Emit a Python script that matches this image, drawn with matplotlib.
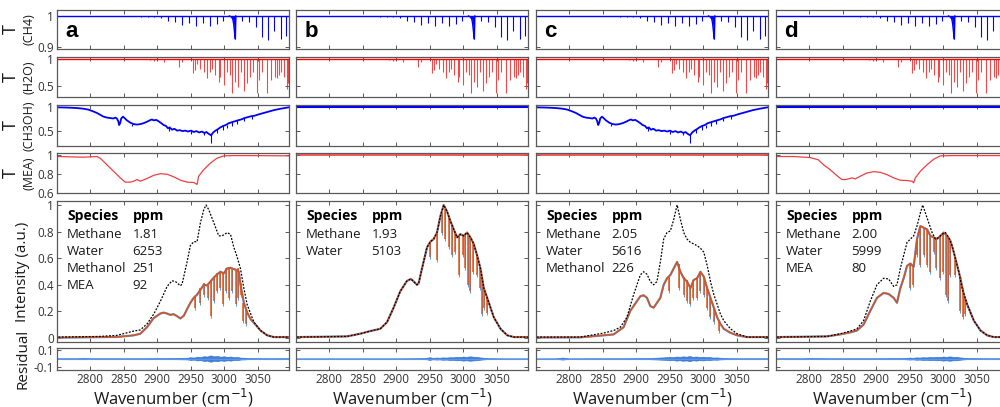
import matplotlib
matplotlib.use('Agg')
import matplotlib.pyplot as plt
from matplotlib.ticker import FuncFormatter

plt.rcParams['font.family'] = ['Open Sans', 'DejaVu Sans']

# ---------------- data ----------------
panel_letters = ['a', 'b', 'c', 'd']
species_tables = [
    [('Methane', '1.81'), ('Water', '6253'), ('Methanol', '251'), ('MEA', '92')],
    [('Methane', '1.93'), ('Water', '5103')],
    [('Methane', '2.05'), ('Water', '5616'), ('Methanol', '226')],
    [('Methane', '2.00'), ('Water', '5999'), ('MEA', '80')],
]

# CH4 transmission lines
ch4_pos = [2866, 2876, 2886, 2896, 2906, 2916, 2927, 2937, 2948, 2958, 2968, 2979, 2989, 2999,
           3027, 3037, 3047, 3057, 3066, 3075, 3085, 3093]
ch4_T = [0.999, 0.998, 0.997, 0.996, 0.993, 0.985, 0.982, 0.971, 0.976, 0.967, 0.976, 0.967,
         0.974, 0.985, 0.985, 0.982, 0.965, 0.933, 0.922, 0.95, 0.924, 0.935]
ch4_q_x = [3008, 3011, 3013, 3014.3, 3015.3, 3016.2, 3016.9, 3017.5]
ch4_q_T = [1.0, 0.997, 0.99, 0.975, 0.955, 0.935, 0.925, 1.0]

# H2O transmission lines
h2o_pos = [2889.9, 2894.8, 2909.8, 2932.3, 2937.3, 2953.7, 2956.2, 2959.7, 2964.7, 2969.7,
           2974.7, 2978.7, 2982.7, 2987.2, 2992.1, 2994.6, 3000.6, 3004.6, 3008.6, 3012.1,
           3016.1, 3020.6, 3024.6, 3029.6, 3034.6, 3038.6, 3043.5, 3048.5, 3052.0, 3057.0,
           3063.5, 3069.5, 3075.5, 3078.5, 3082.0, 3085.5, 3089.5, 3093.4, 3095.4]
h2o_T = [0.98, 0.97, 0.94, 0.85, 0.94, 0.74, 0.79, 0.91, 0.82, 0.76,
         0.64, 0.76, 0.82, 0.70, 0.58, 0.67, 0.52, 0.76, 0.70, 0.36,
         0.58, 0.48, 0.76, 0.40, 0.55, 0.67, 0.76, 0.36, 0.61, 0.76,
         0.37, 0.61, 0.67, 0.64, 0.70, 0.76, 0.67, 0.44, 0.55]

# CH3OH transmission (runs a and c)
meoh_x = [2751.1, 2765.1, 2780.1, 2790.1, 2797.5, 2805, 2810, 2815, 2820, 2825, 2830, 2835,
          2837.5, 2840, 2842, 2843.4, 2845, 2846.4, 2849, 2851.4, 2855, 2860, 2864.9, 2869.9,
          2874.9, 2879.9, 2884.9, 2888.9, 2892.3, 2894.8, 2898.8, 2902.3, 2906.3, 2909.8,
          2913.3, 2916.3, 2918.8, 2922.3, 2925.8, 2929.8, 2933.8, 2937.8, 2942.3, 2946.2,
          2950.7, 2954.7, 2958.7, 2962.7, 2966.7, 2970.7, 2973.7, 2977.2, 2980.7, 2983.7,
          2987.2, 2990.7, 2994.6, 2998.6, 3002.6, 3007.1, 3011.6, 3016.1, 3020.6, 3025.6,
          3030.6, 3035.6, 3040.6, 3045.6, 3052.0, 3059.5, 3067.0, 3074.5, 3084.5, 3096.5]
meoh_T = [1.0, 0.995, 0.985, 0.97, 0.95, 0.91, 0.88, 0.84, 0.80, 0.78, 0.77, 0.76,
          0.78, 0.76, 0.70, 0.62, 0.67, 0.76, 0.80, 0.77, 0.72, 0.67, 0.64, 0.63,
          0.64, 0.66, 0.69, 0.72, 0.74, 0.72, 0.73, 0.70, 0.66, 0.62,
          0.60, 0.55, 0.57, 0.52, 0.54, 0.50, 0.51, 0.49, 0.50, 0.48,
          0.50, 0.47, 0.49, 0.46, 0.48, 0.45, 0.47, 0.43, 0.40, 0.46,
          0.50, 0.53, 0.57, 0.60, 0.62, 0.66, 0.68, 0.70, 0.72, 0.74,
          0.77, 0.79, 0.81, 0.82, 0.85, 0.88, 0.91, 0.94, 0.97, 1.0]
meoh_spike_x = [2863, 2918, 2950, 2970, 2980.7, 2990, 2998, 3005, 3012, 3020, 3030, 3041]
meoh_spike_top = [0.65, 0.57, 0.50, 0.46, 0.42, 0.53, 0.60, 0.63, 0.68, 0.72, 0.77, 0.81]
meoh_spike_bot = [0.60, 0.50, 0.43, 0.40, 0.24, 0.44, 0.52, 0.56, 0.60, 0.64, 0.70, 0.75]

# MEA transmission (run a, run d)
mea_a_x = [2751, 2790, 2810, 2815, 2825, 2835, 2845, 2852.4, 2860, 2865, 2870, 2875, 2885,
           2895, 2905, 2915, 2925, 2935, 2945, 2955, 2957.2, 2959.7, 2962, 2969.7, 2979.7,
           2989.6, 2999.6, 3014.6, 3039.6, 3097]
mea_a_T = [0.983, 0.976, 0.983, 0.966, 0.897, 0.828, 0.759, 0.714, 0.714, 0.724, 0.741, 0.724,
           0.752, 0.786, 0.803, 0.797, 0.769, 0.734, 0.714, 0.71, 0.70, 0.69, 0.776, 0.845,
           0.914, 0.966, 0.99, 0.993, 0.993, 0.99]
mea_d_x = [2751.6, 2776.5, 2801.5, 2813.9, 2821.4, 2831.4, 2841.4, 2848.9, 2853.9, 2858.8,
           2863.8, 2868.8, 2876.3, 2886.3, 2896.3, 2906.2, 2916.2, 2926.2, 2936.2, 2946.2,
           2953.6, 2956.1, 2958.6, 2966.1, 2976.1, 2986.1, 2996.1, 3016, 3097]
mea_d_T = [0.983, 0.983, 0.972, 0.948, 0.897, 0.845, 0.783, 0.741, 0.741, 0.748,
           0.759, 0.748, 0.776, 0.81, 0.824, 0.817, 0.793, 0.759, 0.734, 0.731,
           0.724, 0.707, 0.759, 0.828, 0.897, 0.955, 0.99, 0.993, 0.993]

# Intensity spectra: reference (black dotted) and measured (orange)
ref_x_a = [2752.6, 2815, 2840, 2855, 2865, 2875, 2885, 2895, 2905, 2915, 2922.3, 2927.3,
           2934.8, 2937.3, 2944.7, 2949.7, 2954.7, 2959.7, 2964.7, 2969.7, 2973.2, 2977.2,
           2984.7, 2992.1, 2997.1, 3004.6, 3009.6, 3014.6, 3019.6, 3024.6, 3029.6, 3034.6,
           3044.5, 3054.5, 3064.5, 3074.5, 3097]
ref_I_a = [0.007, 0.012, 0.02, 0.039, 0.052, 0.061, 0.106, 0.18, 0.277, 0.388, 0.43, 0.425,
           0.393, 0.405, 0.571, 0.695, 0.724, 0.724, 0.866, 0.964, 1.0, 0.964,
           0.866, 0.768, 0.768, 0.792, 0.78, 0.682, 0.608, 0.52, 0.373, 0.25,
           0.12, 0.056, 0.02, 0.007, 0.007]
meas_x_a = [2751, 2840, 2855, 2864.9, 2874.9, 2884.9, 2894.8, 2904.8, 2909.8, 2914.8, 2919.8,
            2924.8, 2929.8, 2934.8, 2939.8, 2944.7, 2949.7, 2954.7, 2959.7, 2964.7, 2969.7,
            2974.7, 2979.7, 2984.7, 2989.7, 2994.6, 2999.6, 3004.6, 3009.6, 3014.6, 3019.6,
            3022.1, 3024.6, 3029.6, 3034.6, 3039.6, 3044.5, 3054.5, 3064.5, 3074.5, 3097]
meas_I_a = [0.003, 0.008, 0.015, 0.02, 0.032, 0.081, 0.149, 0.184, 0.191, 0.184, 0.174,
            0.179, 0.164, 0.147, 0.167, 0.216, 0.265, 0.302, 0.326, 0.363, 0.4,
            0.395, 0.425, 0.454, 0.479, 0.498, 0.486, 0.523, 0.528, 0.518, 0.51,
            0.498, 0.4, 0.265, 0.191, 0.142, 0.115, 0.056, 0.02, 0.007, 0.007]
dip_x_a = [2957.2, 2964.7, 2969.7, 2975.7, 2980.7, 2984.7, 2989.7, 2994.6, 2998.6, 3002.6,
           3007.1, 3012.1, 3017.1, 3020.6, 3024.6, 3028.6, 3032.1]
dip_top_a = [0.314, 0.375, 0.412, 0.40, 0.437, 0.461, 0.486, 0.498, 0.486, 0.523,
             0.535, 0.523, 0.51, 0.523, 0.412, 0.265, 0.216]
dip_bot_a = [0.228, 0.265, 0.326, 0.302, 0.167, 0.277, 0.351, 0.375, 0.253, 0.351,
             0.302, 0.351, 0.253, 0.302, 0.326, 0.13, 0.106]

ref_x_b = [2751.6, 2826.4, 2846.4, 2861.3, 2876.3, 2886.3, 2896.3, 2906.2, 2916.2, 2922.2,
           2926.2, 2931.2, 2933.7, 2938.7, 2946.2, 2951.2, 2956.1, 2961.1, 2966.1, 2971.1,
           2976.1, 2981.1, 2986.1, 2991.1, 2996.1, 3001.1, 3006, 3011, 3016, 3021, 3026,
           3031, 3036, 3046, 3056, 3066, 3076, 3098]
ref_I_b = [0.007, 0.012, 0.032, 0.052, 0.069, 0.118, 0.228, 0.351, 0.429, 0.444,
           0.425, 0.40, 0.412, 0.523, 0.682, 0.724, 0.744, 0.793, 0.915, 1.0,
           0.952, 0.879, 0.817, 0.756, 0.78, 0.768, 0.793, 0.756, 0.707, 0.621, 0.523,
           0.375, 0.302, 0.155, 0.069, 0.02, 0.007, 0.007]
dip_x_b = [2951.2, 2961.1, 2968.6, 2973.6, 2978.6, 2983.6, 2988.6, 2994.6, 3000.1, 3003.6,
           3007.0, 3011.0, 3015.0, 3021.0, 3025.0, 3028.5, 3032.0, 3036.0]
dip_top_b = [0.724, 0.793, 0.94, 0.97, 0.92, 0.85, 0.80, 0.77, 0.77, 0.78,
             0.78, 0.756, 0.719, 0.621, 0.535, 0.449, 0.375, 0.302]
dip_bot_b = [0.609, 0.584, 0.793, 0.744, 0.682, 0.621, 0.645, 0.474, 0.621, 0.523,
             0.40, 0.351, 0.498, 0.474, 0.375, 0.179, 0.228, 0.191]

ref_x_c = [2751.6, 2816.5, 2831.4, 2851.4, 2866.4, 2876.3, 2886.3, 2896.3, 2906.3, 2911.3,
           2916.3, 2921.2, 2926.2, 2931.2, 2936.2, 2941.2, 2946.2, 2951.2, 2956.2, 2961.2,
           2966.2, 2971.1, 2976.1, 2981.1, 2986.1, 2991.1, 2996.1, 3001.1, 3006.1, 3011.1,
           3016.1, 3021.1, 3026, 3031, 3041, 3051, 3066, 3098]
ref_I_c = [0.007, 0.007, 0.02, 0.037, 0.056, 0.081, 0.155, 0.326, 0.474, 0.498,
           0.479, 0.425, 0.40, 0.425, 0.572, 0.744, 0.793, 0.805, 0.891, 1.0,
           0.891, 0.793, 0.744, 0.719, 0.707, 0.694, 0.675, 0.645, 0.547, 0.425,
           0.326, 0.253, 0.179, 0.13, 0.069, 0.032, 0.007, 0.007]
meas_x_c = [2751.6, 2816.5, 2851.4, 2866.4, 2881.3, 2891.3, 2901.3, 2906.3, 2911.3, 2916.3,
            2921.2, 2926.2, 2931.2, 2936.2, 2941.2, 2946.2, 2951.2, 2956.2, 2961.2, 2966.2,
            2971.1, 2976.1, 2981.1, 2986.1, 2991.1, 2996.1, 3001.1, 3006.1, 3011.1, 3016.1,
            3021.1, 3026, 3031, 3041, 3051, 3066, 3098]
meas_I_c = [0.004, 0.005, 0.02, 0.027, 0.081, 0.204, 0.277, 0.314, 0.321, 0.302,
            0.24, 0.228, 0.265, 0.302, 0.40, 0.449, 0.474, 0.523, 0.572, 0.498,
            0.449, 0.425, 0.375, 0.437, 0.449, 0.498, 0.461, 0.375, 0.302, 0.228,
            0.155, 0.106, 0.069, 0.039, 0.02, 0.007, 0.007]
dip_x_c = [2948.7, 2963.7, 2971.1, 2976.1, 2981.1, 2985.1, 2991.1, 2996.1, 3001.1, 3006.1,
           3011.1, 3016.1, 3023.6]
dip_top_c = [0.461, 0.56, 0.461, 0.437, 0.375, 0.437, 0.461, 0.486, 0.461, 0.375,
             0.302, 0.228, 0.13]
dip_bot_c = [0.351, 0.375, 0.326, 0.277, 0.253, 0.302, 0.302, 0.351, 0.326, 0.228,
             0.155, 0.118, 0.056]

ref_x_d = [2751.6, 2826.4, 2846.4, 2861.3, 2871.3, 2881.3, 2891.3, 2901.3, 2911.2, 2918.7,
           2926.2, 2931.2, 2936.2, 2946.2, 2956.1, 2961.1, 2966.1, 2969.6, 2973.6, 2978.6,
           2983.6, 2988.6, 2993.6, 2998.6, 3003.6, 3008.5, 3013.5, 3018.5, 3023.5, 3028.5,
           3036.0, 3046.0, 3056.0, 3066.0, 3075.9, 3098.4]
ref_I_d = [0.007, 0.012, 0.032, 0.052, 0.069, 0.13, 0.277, 0.40, 0.449, 0.444,
           0.388, 0.40, 0.523, 0.719, 0.768, 0.842, 0.94, 1.0, 0.94, 0.866,
           0.793, 0.744, 0.756, 0.78, 0.793, 0.756, 0.694, 0.596, 0.498, 0.375,
           0.253, 0.13, 0.056, 0.02, 0.007, 0.007]
meas_x_d = [2751.6, 2826.4, 2846.4, 2861.3, 2871.3, 2881.3, 2891.3, 2901.3, 2911.2, 2918.7,
            2926.2, 2931.2, 2936.2, 2941.2, 2946.2, 2951.2, 2956.1, 2961.1, 2966.1, 2971.1,
            2976.1, 2981.1, 2986.1, 2991.1, 2996.1, 3001.1, 3006.0, 3011.0, 3016.0, 3021.0,
            3026.0, 3031.0, 3036.0, 3046.0, 3056.0, 3066.0, 3075.9, 3098.4]
meas_I_d = [0.007, 0.012, 0.027, 0.042, 0.056, 0.101, 0.204, 0.302, 0.339, 0.331,
            0.302, 0.265, 0.375, 0.449, 0.542, 0.56, 0.535, 0.744, 0.842, 0.829,
            0.817, 0.768, 0.756, 0.744, 0.768, 0.793, 0.768, 0.731, 0.645, 0.547,
            0.449, 0.326, 0.253, 0.13, 0.056, 0.02, 0.007, 0.007]
dip_x_d = [2951.2, 2955.1, 2961.1, 2965.1, 2971.1, 2976.1, 2981.1, 2986.1, 2990.1, 2995.1,
           3000.1, 3004.0, 3007.0, 3011.0, 3018.5, 3026.0, 3030.0, 3033.5]
dip_top_d = [0.56, 0.535, 0.744, 0.837, 0.829, 0.817, 0.768, 0.756, 0.744, 0.768,
             0.789, 0.78, 0.768, 0.731, 0.609, 0.449, 0.375, 0.302]
dip_bot_d = [0.375, 0.40, 0.621, 0.547, 0.621, 0.547, 0.498, 0.645, 0.523, 0.449,
             0.498, 0.326, 0.277, 0.474, 0.474, 0.204, 0.155, 0.179]

# residual noise band (half-amplitude)
res_x = [2751, 2780, 2790, 2800, 2830, 2850, 2880, 2900, 2920, 2935, 2945, 2950, 2955, 2960,
         2965, 2970, 2975, 2980, 2985, 2990, 2995, 3000, 3005, 3010, 3015, 3020, 3025, 3030,
         3035, 3040, 3050, 3070, 3097]
res_amp_a = [0.004, 0.004, 0.007, 0.004, 0.004, 0.004, 0.004, 0.005, 0.006, 0.008, 0.01,
             0.016, 0.012, 0.022, 0.018, 0.028, 0.024, 0.038, 0.026, 0.03, 0.022, 0.027,
             0.02, 0.024, 0.016, 0.018, 0.011, 0.01, 0.007, 0.006, 0.005, 0.004, 0.005]
res_amp_b = [0.003, 0.003, 0.003, 0.003, 0.003, 0.003, 0.003, 0.003, 0.004, 0.005, 0.008,
             0.016, 0.008, 0.012, 0.01, 0.014, 0.012, 0.016, 0.015, 0.02, 0.018, 0.024,
             0.02, 0.026, 0.022, 0.02, 0.014, 0.01, 0.007, 0.005, 0.004, 0.003, 0.003]
res_amp_c = [0.003, 0.003, 0.012, 0.003, 0.004, 0.004, 0.004, 0.005, 0.007, 0.012, 0.016,
             0.02, 0.016, 0.024, 0.02, 0.026, 0.022, 0.03, 0.02, 0.024, 0.018, 0.022,
             0.016, 0.018, 0.012, 0.014, 0.01, 0.008, 0.006, 0.005, 0.004, 0.004, 0.004]
res_amp_d = [0.004, 0.004, 0.004, 0.006, 0.004, 0.004, 0.004, 0.004, 0.005, 0.006, 0.008,
             0.012, 0.009, 0.014, 0.012, 0.016, 0.014, 0.018, 0.016, 0.02, 0.018, 0.024,
             0.02, 0.026, 0.02, 0.02, 0.014, 0.01, 0.007, 0.006, 0.005, 0.004, 0.004]

ref_x = [ref_x_a, ref_x_b, ref_x_c, ref_x_d]
ref_I = [ref_I_a, ref_I_b, ref_I_c, ref_I_d]
meas_x = [meas_x_a, ref_x_b, meas_x_c, meas_x_d]
meas_I = [meas_I_a, ref_I_b, meas_I_c, meas_I_d]
dips = [(dip_x_a, dip_top_a, dip_bot_a), (dip_x_b, dip_top_b, dip_bot_b),
        (dip_x_c, dip_top_c, dip_bot_c), (dip_x_d, dip_top_d, dip_bot_d)]
res_amp = [res_amp_a, res_amp_b, res_amp_c, res_amp_d]
has_meoh = [True, False, True, False]
mea_curves = [(mea_a_x, mea_a_T), None, None, (mea_d_x, mea_d_T)]

# ---------------- layout ----------------
W, H = 1000, 407
col_left = [57, 296, 536, 776]
col_w = 232
rows = [(9.5, 49), (57, 97), (105, 146), (153, 193), (201, 342), (348, 370)]
row_ylim = [(0.893, 1.021), (0.29, 1.04), (0.17, 1.05), (0.6, 1.02), (-0.03, 1.03), (-0.135, 0.125)]
row_yticks = [[0.9, 1], [0.5, 1], [0.5, 1], [0.6, 0.8, 1], [0, 0.2, 0.4, 0.6, 0.8, 1], [-0.1, 0.1]]
xlim = (2750.5, 3097)
frame = '0.35'
orange = (0.85, 0.325, 0.098)
fitblue = (0.35, 0.6, 0.92)
resblue = (0.15, 0.42, 0.82)

fig = plt.figure(figsize=(10, 4.07), dpi=100)
fmt = FuncFormatter(lambda v, p: '%g' % v)

for c in range(4):
    axs = []
    for r, (t, b) in enumerate(rows):
        ax = fig.add_axes([col_left[c] / W, 1 - b / H, col_w / W, (b - t) / H])
        ax.set_xlim(*xlim)
        ax.set_ylim(*row_ylim[r])
        ax.set_xticks([2800, 2850, 2900, 2950, 3000, 3050])
        ax.set_yticks(row_yticks[r])
        ax.yaxis.set_major_formatter(fmt)
        ax.tick_params(direction='in', top=True, right=True, length=3, width=0.7,
                       color=frame, labelcolor='0.2', labelsize=8.5, pad=2)
        for s in ax.spines.values():
            s.set_color(frame)
            s.set_linewidth(0.9)
        if r < 5:
            ax.tick_params(labelbottom=False)
        if c > 0:
            ax.tick_params(labelleft=False)
        axs.append(ax)

    # CH4
    ax = axs[0]
    ax.axhline(1, color='b', lw=1)
    ax.vlines(ch4_pos, ch4_T, 1, color='b', lw=0.8)
    ax.fill_between(ch4_q_x, ch4_q_T, 1, color='b', lw=0)
    ax.plot(ch4_q_x, ch4_q_T, color='b', lw=1.0)
    ax.text(0.035, 0.45, panel_letters[c], transform=ax.transAxes, fontsize=16,
            fontweight='bold', va='center', ha='left', family=['Liberation Sans', 'DejaVu Sans'])

    # H2O
    ax = axs[1]
    ax.axhline(1, color='r', lw=1)
    ax.vlines(h2o_pos, h2o_T, 1, color=(0.95, 0.1, 0.1), lw=0.8, alpha=0.8)

    # CH3OH
    ax = axs[2]
    if has_meoh[c]:
        ax.plot(meoh_x, meoh_T, color='b', lw=1.3)
        ax.vlines(meoh_spike_x, meoh_spike_bot, meoh_spike_top, color='b', lw=0.8)
    else:
        ax.axhline(1, color='b', lw=1.5)

    # MEA
    ax = axs[3]
    if mea_curves[c] is not None:
        ax.plot(mea_curves[c][0], mea_curves[c][1], color=(0.93, 0.25, 0.25), lw=0.9)
    else:
        ax.axhline(1, color=(0.93, 0.25, 0.25), lw=1.2)

    # Intensity
    ax = axs[4]
    dx, dt, db = dips[c]
    ax.plot(meas_x[c], meas_I[c], color=fitblue, lw=1.6)
    ax.vlines(dx, [v - 0.015 for v in db], dt, color=fitblue, lw=0.7)
    ax.plot(meas_x[c], meas_I[c], color=orange, lw=1.1)
    ax.vlines(dx, db, dt, color=orange, lw=1.2, alpha=0.9)
    ax.plot(ref_x[c], ref_I[c], color='k', lw=0.9, ls=(0, (1.5, 1.2)))
    tx0, tx1 = 0.043, 0.325
    ax.text(tx0, 0.894, 'Species', transform=ax.transAxes, fontsize=10,
            fontweight='bold', va='center')
    ax.text(tx1, 0.894, 'ppm', transform=ax.transAxes, fontsize=10,
            fontweight='bold', va='center')
    for i, (name, val) in enumerate(species_tables[c]):
        yy = 0.759 - i * 0.119
        ax.text(tx0, yy, name, transform=ax.transAxes, fontsize=9.5, va='center', color='0.1')
        ax.text(tx1, yy, val, transform=ax.transAxes, fontsize=9.5, va='center', color='0.1')

    # Residual
    ax = axs[5]
    ax.fill_between(res_x, [-a for a in res_amp[c]], res_amp[c], color=resblue, lw=0.5,
                    alpha=0.85)
    ax.axhline(0, color=fitblue, lw=0.8)

    fig.text((col_left[c] + col_w / 2) / W, 1 - 398 / H, 'Wavenumber (cm$^{-1}$)',
             ha='center', va='center', fontsize=12, color='0.1')

# y labels on the left
names = ['(CH4)', '(H2O)', '(CH3OH)', '(MEA)']
for r in range(4):
    t, b = rows[r]
    yc = 1 - (t + b) / 2 / H
    fig.text(11 / W, yc, 'T', rotation=90, ha='center', va='center', fontsize=13, color='0.1')
    fig.text(29 / W, yc, names[r], rotation=90, ha='center', va='center', fontsize=9, color='0.1')
fig.text(23 / W, 1 - 271.5 / H, 'Intensity (a.u.)', rotation=90, ha='center', va='center',
         fontsize=11, color='0.1')
fig.text(23 / W, 1 - 359 / H, 'Residual', rotation=90, ha='center', va='center',
         fontsize=11, color='0.1')

fig.savefig('out.png', dpi=100)
